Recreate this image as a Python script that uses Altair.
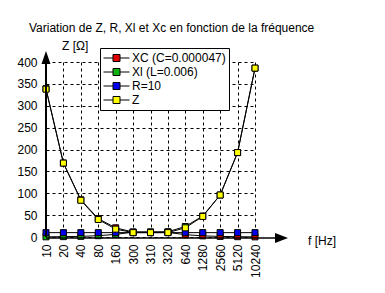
import altair as alt
import pandas as pd

freqs = ["10", "20", "40", "80", "160", "300", "310", "320", "640", "1280", "2560", "5120", "10240"]
xc_vals = [339, 169, 85, 42, 21, 11.3, 10.9, 10.6, 5.3, 2.6, 1.3, 0.7, 0.3]
xl_vals = [0.4, 0.8, 1.5, 3, 6, 11.3, 11.7, 12.1, 24, 48, 96, 193, 386]
r_vals = [10, 10, 10, 10, 10, 10, 10, 10, 10, 10, 10, 10, 10]
z_vals = [338, 169, 84, 40, 18, 10, 10, 10.1, 21, 47, 96, 193, 386]
series_names = ["XC (C=0.000047)", "Xl (L=0.006)", "R=10", "Z"]
series_colors = ["#e00000", "#10b010", "#0000ee", "#ffff00"]
y_ticks = [0, 50, 100, 150, 200, 250, 300, 350, 400]

title_text = "Variation de Z, R, Xl et Xc en fonction de la fréquence"
y_title = "Z [Ω]"
x_title = "f [Hz]"

rows = []
for name, vals in zip(series_names, [xc_vals, xl_vals, r_vals, z_vals]):
    for i, (f, v) in enumerate(zip(freqs, vals)):
        rows.append({"f": f, "v": v, "series": name, "order": i})
df = pd.DataFrame(rows)

FONT = "Liberation Sans"
W, H = 209, 175

x_enc = alt.X("f:N", sort=freqs,
              scale=alt.Scale(type="point", padding=0),
              axis=alt.Axis(title=None, labelAngle=-90, labelFontSize=12, labelFont=FONT,
                            labelColor="black", labelPadding=7, ticks=False, domain=False,
                            labelOverlap=False,
                            grid=True, gridColor="black", gridDash=[3, 3], gridOpacity=1,
                            gridWidth=1))
y_enc = alt.Y("v:Q", scale=alt.Scale(domain=[0, 400], nice=False),
              axis=alt.Axis(title=None, values=y_ticks, labelFontSize=12, labelFont=FONT,
                            labelColor="black", labelPadding=9, ticks=False, domain=False,
                            labelOverlap=False,
                            grid=True, gridColor="black", gridDash=[3, 3], gridOpacity=1,
                            gridWidth=1))

base = alt.Chart(df)

lines = base.mark_line(color="black", strokeWidth=1).encode(
    x=x_enc, y=y_enc, detail="series:N", order="order:Q")

legend_symbol = "M-1,0H-0.27M0.27,0H1M-0.27,-0.27H0.27V0.27H-0.27Z"
points = base.mark_point(shape="square", filled=True, size=36, stroke="black",
                         strokeWidth=1, opacity=1).encode(
    x=x_enc,
    y=y_enc,
    fill=alt.Fill("series:N", sort=series_names,
                  scale=alt.Scale(domain=series_names, range=series_colors),
                  legend=alt.Legend(title=None, orient="none", legendX=54, legendY=-14,
                                    direction="vertical",
                                    symbolType=legend_symbol, symbolSize=676,
                                    symbolStrokeColor="black", symbolStrokeWidth=1,
                                    symbolOpacity=1,
                                    labelFont=FONT, labelFontSize=12, labelColor="black",
                                    labelOffset=2, rowPadding=0, clipHeight=14,
                                    strokeColor="black", fillColor="white", padding=3)),
)

deco = pd.DataFrame({"k": [0]})
yaxis_line = alt.Chart(deco).mark_rule(color="black", strokeWidth=2).encode(
    x=alt.value(0), y=alt.value(H), y2=alt.value(-4))
xaxis_line = alt.Chart(deco).mark_rule(color="black", strokeWidth=1.5).encode(
    x=alt.value(0), x2=alt.value(232), y=alt.value(H + 1))
y_head = alt.Chart(deco).mark_point(shape="M0,-1L0.69,1L-0.69,1Z", filled=True,
                                    color="black", size=169, opacity=1).encode(
    x=alt.value(0), y=alt.value(-4.5))
x_head = alt.Chart(deco).mark_point(shape="M1,0L-1,0.77L-1,-0.77Z", filled=True,
                                    color="black", size=169, opacity=1).encode(
    x=alt.value(235.5), y=alt.value(H + 1))

texts = pd.DataFrame({"t": [title_text]})
title_mark = alt.Chart(texts).mark_text(font=FONT, fontSize=12, align="left",
                                        baseline="middle", color="black").encode(
    text="t:N", x=alt.value(-17), y=alt.value(-34))
ylab = alt.Chart(pd.DataFrame({"t": [y_title]})).mark_text(
    font=FONT, fontSize=12, align="left", baseline="middle", color="black").encode(
    text="t:N", x=alt.value(16), y=alt.value(-16))
xlab = alt.Chart(pd.DataFrame({"t": [x_title]})).mark_text(
    font=FONT, fontSize=12, align="left", baseline="middle", color="black").encode(
    text="t:N", x=alt.value(262), y=alt.value(H + 4))

chart = alt.layer(lines, points, yaxis_line, xaxis_line, y_head, x_head,
                  title_mark, ylab, xlab).properties(
    width=W, height=H,
    autosize=alt.AutoSizeParams(type="none"),
    padding={"left": 46, "top": 62, "right": 130, "bottom": 56},
    background="white",
).configure_view(stroke=None)

chart.save("out.html", embed_options={"renderer": "svg", "actions": False})
